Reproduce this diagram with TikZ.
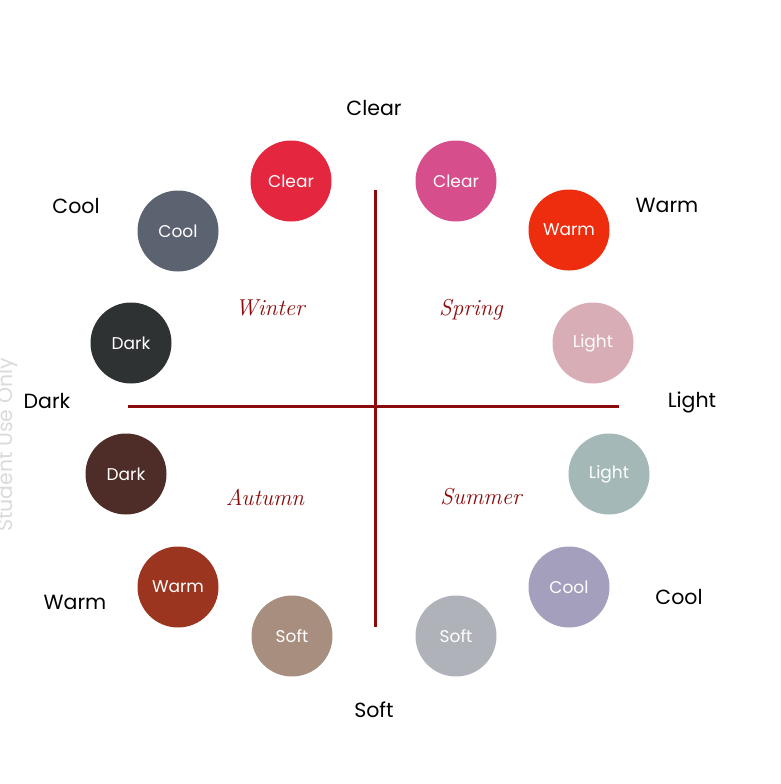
\documentclass[tikz,border=0pt]{standalone}
\usepackage{fontspec}
\newfontfamily\labelfont{Poppins}
\definecolor{axisred}{HTML}{8B0A0A}
\definecolor{clearred}{HTML}{E5263F}
\definecolor{clearpink}{HTML}{D64E8C}
\definecolor{coolgrey}{HTML}{5B6270}
\definecolor{warmred}{HTML}{EE2C0E}
\definecolor{darkgrey}{HTML}{2F3233}
\definecolor{lightpink}{HTML}{D8ADB6}
\definecolor{darkbrown}{HTML}{4E2C27}
\definecolor{lightsage}{HTML}{A3B8B7}
\definecolor{warmrust}{HTML}{9B3520}
\definecolor{coollilac}{HTML}{A39FBC}
\definecolor{softtaupe}{HTML}{A88E7E}
\definecolor{softgrey}{HTML}{AFB2B9}
\definecolor{watermark}{HTML}{DADADA}

\begin{document}
\begin{tikzpicture}[x=1pt,y=-1pt,
    swatch/.style={circle,minimum size=81pt,inner sep=0pt,text=white,
        font=\labelfont\fontsize{17}{20}\selectfont},
    pole/.style={font=\labelfont\fontsize{20.5}{24}\selectfont},
    season/.style={text=axisred,font=\itshape\fontsize{23}{27}\selectfont},
    axis/.style={axisred,line width=3pt}]
        \useasboundingbox (0,0) rectangle (781,784);
        % axes
        \coordinate (top) at (375,190);
        \coordinate (bottom) at (375,627);
        \coordinate (left) at (128,406);
        \coordinate (right) at (619,406);
        \draw[axis] (top) -- (bottom);
        \draw[axis] (left) -- (right);
        % swatches
        \foreach \name/\x/\y/\col/\txt in {
            winclear/291/181/clearred/Clear,
            sprclear/456/181/clearpink/Clear,
            wincool/178/231/coolgrey/Cool,
            sprwarm/569/230/warmred/Warm,
            windark/131/343/darkgrey/Dark,
            sprlight/593/343/lightpink/Light,
            autdark/126/474/darkbrown/Dark,
            sumlight/609/474/lightsage/Light,
            autwarm/178/587/warmrust/Warm,
            sumcool/569/587/coollilac/Cool,
            autsoft/292/636/softtaupe/Soft,
            sumsoft/456/636/softgrey/Soft}
            \node[swatch,fill=\col] (\name) at (\x,\y) {\txt};
        % poles
        \node[pole] (clear) at (374,108) {Clear};
        \node[pole] (warmtop) at (667,205) {Warm};
        \node[pole] (light) at (692,402) {Light};
        \node[pole] (coolbot) at (679,597) {Cool};
        \node[pole] (soft) at (374,710) {Soft};
        \node[pole] (warmbot) at (75,602) {Warm};
        \node[pole] (dark) at (47,401) {Dark};
        \node[pole] (cooltop) at (76,206) {Cool};
        % seasons
        \node[season] (winter) at (270,308) {Winter};
        \node[season] (spring) at (471,310) {Spring};
        \node[season] (autumn) at (265,497) {Autumn};
        \node[season] (summer) at (481,497) {Summer};
        \node[rotate=90,text=watermark,font=\labelfont\fontsize{20.5}{24}\selectfont]
            (mark) at (8,445) {Student Use Only};
    \end{tikzpicture}
\end{document}
